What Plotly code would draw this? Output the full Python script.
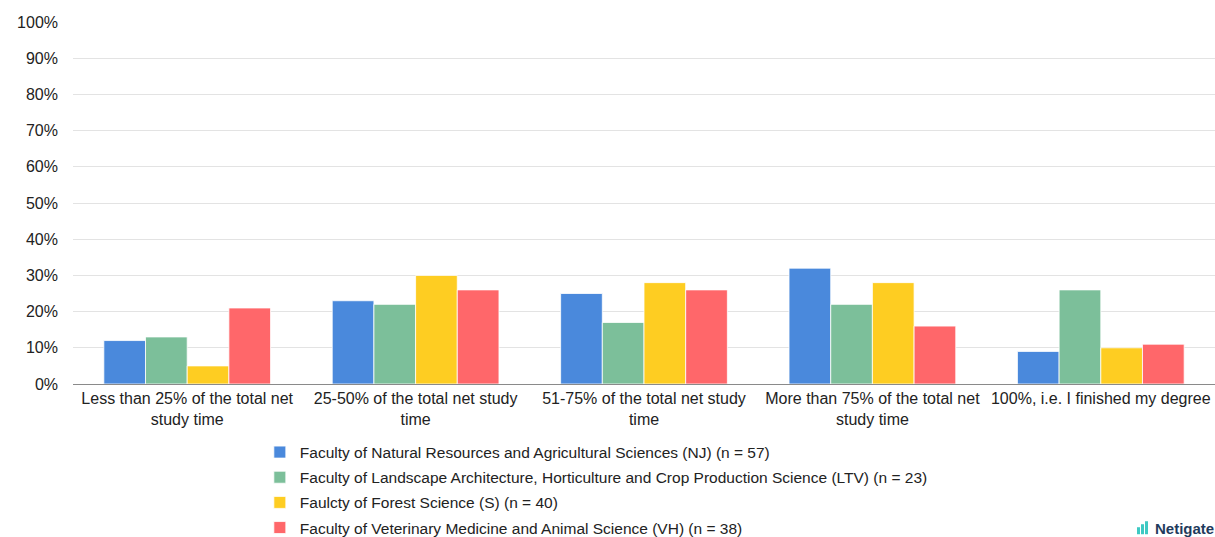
import plotly.graph_objects as go

categories = [
    "Less than 25% of the total net<br>study time",
    "25-50% of the total net study<br>time",
    "51-75% of the total net study<br>time",
    "More than 75% of the total net<br>study time",
    "100%, i.e. I finished my degree",
]

series_names = [
    "Faculty of Natural Resources and Agricultural Sciences (NJ) (n = 57)",
    "Faculty of Landscape Architecture, Horticulture and Crop Production Science (LTV) (n = 23)",
    "Faulcty of Forest Science (S) (n = 40)",
    "Faculty of Veterinary Medicine and Animal Science (VH) (n = 38)",
]

nj = [12, 23, 25, 32, 9]
ltv = [13, 22, 17, 22, 26]
s = [5, 30, 28, 28, 10]
vh = [21, 26, 26, 16, 11]

y_ticks = [0, 10, 20, 30, 40, 50, 60, 70, 80, 90, 100]
y_tick_labels = [f"{v}%" for v in y_ticks]

colors = ["#4a89dc", "#7cbf9a", "#fecd22", "#ff676a"]

fig = go.Figure()
for i, (name, vals) in enumerate(zip(series_names, [nj, ltv, s, vh])):
    fig.add_trace(
        go.Bar(
            x=categories,
            y=vals,
            name=name,
            legendgroup=str(i),
            marker=dict(color=colors[i], line=dict(color="white", width=0.8)),
        )
    )

fig.update_layout(
    barmode="group",
    bargap=0.27,
    bargroupgap=0,
    width=1215,
    height=537,
    plot_bgcolor="white",
    paper_bgcolor="white",
    margin=dict(l=73, r=0, t=22, b=153),
    font=dict(family="Liberation Sans, Arial, sans-serif", size=16, color="#222222"),
    showlegend=True,
    legend=dict(
        orientation="v",
        x=0.1636,
        xanchor="left",
        yref="container",  # keeps the legend from shrinking the plot
        y=0.189,
        yanchor="top",
        font=dict(size=15.5),
        tracegroupgap=2,
        itemwidth=30,
    ),
)

fig.update_yaxes(
    range=[0, 100],
    tickvals=y_ticks,
    ticktext=y_tick_labels,
    showgrid=True,
    gridcolor="#e3e3e3",
    zeroline=False,
    ticks="",
    ticklabelstandoff=14,
)
fig.update_xaxes(
    showline=True,
    linecolor="#8a8a8a",
    linewidth=1,
)

# Netigate logo mark
px_y = 1 / 362
px_x = 1 / 1142
for k, h in enumerate([7, 10, 13]):
    fig.add_shape(
        type="rect", xref="paper", yref="paper",
        x0=0.9317 + k * 4 * px_x, x1=0.9317 + (k * 4 + 3) * px_x,
        y0=-0.415, y1=-0.415 + h * px_y,
        fillcolor="#3ec9c3", line_width=0,
    )
fig.add_annotation(
    text="<b>Netigate</b>",
    xref="paper", yref="paper",
    x=0.9457, y=-0.399,
    xanchor="left", yanchor="middle",
    showarrow=False,
    font=dict(size=15, color="#1f3b5c"),
)

# drop the default 8px body margin so the figure fills the window exactly
fig.write_html(
    "out.html",
    config={"displayModeBar": False},
    post_script="document.body.style.margin = '0';",
)
